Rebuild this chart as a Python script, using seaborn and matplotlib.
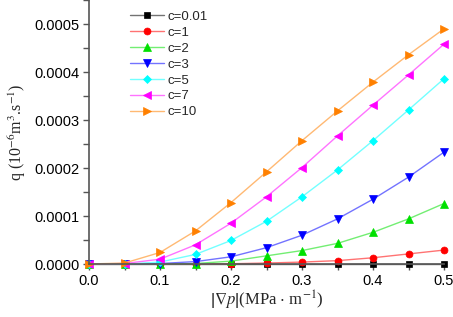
import numpy as np
import pandas as pd
import matplotlib
matplotlib.use("Agg")
import matplotlib.pyplot as plt
import seaborn as sns
from matplotlib.ticker import MultipleLocator, FormatStrFormatter
from matplotlib.colors import to_rgb

grad_p = [0.0, 0.05, 0.1, 0.15, 0.2, 0.25, 0.3, 0.35, 0.4, 0.45, 0.5]

q_c001 = [0, 0, 0, 0, 0, 0, 0, 0, 0, 0, 0]
q_c1 = [0, 0, 0, 0, 0.0000005, 0.000002, 0.000004, 0.000007, 0.000013, 0.000021, 0.000029]
q_c2 = [0, 0, 0, 0.000001, 0.000006, 0.000017, 0.000028, 0.000043, 0.000066, 0.000094, 0.000126]
q_c3 = [0, 0, 0.000001, 0.000005, 0.000015, 0.000034, 0.00006, 0.000094, 0.000135, 0.000181, 0.000233]
q_c5 = [0, 0, 0.000004, 0.00002, 0.000049, 0.000089, 0.00014, 0.000196, 0.000257, 0.000321, 0.000386]
q_c7 = [0, 0.000001, 0.00001, 0.00004, 0.000085, 0.00014, 0.000201, 0.000267, 0.000331, 0.000394, 0.000458]
q_c10 = [0, 0.000002, 0.000024, 0.000069, 0.000128, 0.000192, 0.000257, 0.000319, 0.000379, 0.000436, 0.00049]

series_labels = ["c=0.01", "c=1", "c=2", "c=3", "c=5", "c=7", "c=10"]
series_values = [q_c001, q_c1, q_c2, q_c3, q_c5, q_c7, q_c10]
colors = ["#000000", "#FF0000", "#00E000", "#0000FF", "#00FFFF", "#FF00FF", "#FF8000"]
markers = ["s", "o", "^", "v", "D", "<", ">"]
msizes = [4.2, 5.0, 5.3, 5.3, 4.2, 5.3, 5.3]

rows = []
for lab, vals in zip(series_labels, series_values):
    for x, y in zip(grad_p, vals):
        rows.append({"grad": x, "q": y, "series": lab})
df = pd.DataFrame(rows)

sns.set_style("ticks")
plt.rcParams['font.family'] = ['Liberation Sans', 'DejaVu Sans']
plt.rcParams['mathtext.fontset'] = 'stix'

fig = plt.figure(figsize=(4.53, 3.17), dpi=100)
ax = fig.add_axes([89/453, 1 - 264/317, (444 - 89)/453, 264/317])

sns.lineplot(data=df, x="grad", y="q", hue="series", hue_order=series_labels,
             palette=colors, style="series", style_order=series_labels,
             markers=dict(zip(series_labels, markers)), dashes=False,
             linewidth=1.0, ax=ax, legend=False)

def lighten(c, f=0.5):
    r, g, b = to_rgb(c)
    return (r + (1 - r) * f, g + (1 - g) * f, b + (1 - b) * f)

for ln, c, ms, lab in zip(ax.lines, colors, msizes, series_labels):
    ln.set_color(lighten(c, 0.45))
    ln.set_markerfacecolor(c)
    ln.set_markeredgecolor(c)
    ln.set_markeredgewidth(0.5)
    ln.set_markersize(ms)
    ln.set_clip_on(False)
    ln.set_label(lab)

ax.set_xlim(0, 0.5)
ax.set_ylim(0, 0.00055)
ax.xaxis.set_major_locator(MultipleLocator(0.1))
ax.xaxis.set_minor_locator(MultipleLocator(0.05))
ax.yaxis.set_major_locator(MultipleLocator(0.0001))
ax.yaxis.set_minor_locator(MultipleLocator(0.00005))
ax.xaxis.set_major_formatter(FormatStrFormatter('%.1f'))
ax.yaxis.set_major_formatter(FormatStrFormatter('%.4f'))
for s in ["top", "right"]:
    ax.spines[s].set_visible(False)
for s in ["left", "bottom"]:
    ax.spines[s].set_color("#555555")
    ax.spines[s].set_linewidth(1.2)
ax.tick_params(which='both', direction='out', colors='#555555', labelcolor='black',
               labelsize=10.5, width=1.0)
ax.tick_params(which='major', length=4, pad=3)
ax.tick_params(which='minor', length=4)

ax.set_xlabel(r'$\left|\nabla p\right|$(MPa $\cdot$ m$^{-1}$)', fontsize=12,
              family='Liberation Serif', labelpad=1)
ax.set_ylabel(r'q (10$^{-6}$m$^{3}$.s$^{-1}$)', fontsize=11.5,
              family='Liberation Serif', labelpad=4)

ax.legend(handles=ax.lines[:7], labels=series_labels, loc='upper left',
          bbox_to_anchor=(0.085, 1.0), frameon=False, fontsize=9.5,
          handlelength=2.6, handletextpad=0.3, labelspacing=0.28, borderpad=0.3)

fig.savefig("out.png", dpi=100)
